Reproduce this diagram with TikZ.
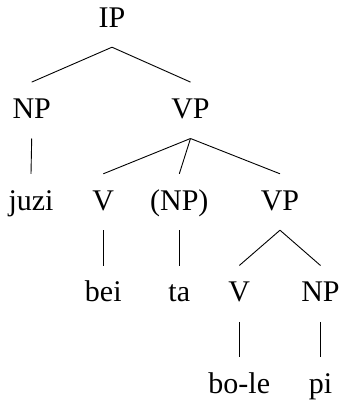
\documentclass[tikz,border=0pt]{standalone}
\usepackage{fontspec}
\setmainfont{Liberation Serif}
\begin{document}
\begin{tikzpicture}[x=1pt,y=-1pt]
\tikzset{
  lab/.style={anchor=base, inner sep=0pt, text height=36pt, text depth=20pt, font=\fontsize{30}{34}\selectfont},
  edge/.style={line width=0.9pt, black}
}
\useasboundingbox (0,0) rectangle (339,402);
\node[lab] (IP) at (112,27) {IP};
\node[lab] (NPa) at (31.7,118.3) {NP};
\node[lab] (VPa) at (190.5,118.3) {VP};
\node[lab] (juzi) at (31,210) {juzi};
\node[lab] (Va) at (103.3,210) {V};
\node[lab] (NPo) at (179.3,210) {(NP)};
\node[lab] (VPb) at (280,210) {VP};
\node[lab] (bei) at (103.3,301.7) {bei};
\node[lab] (ta) at (179.3,301.7) {ta};
\node[lab] (Vb) at (239.3,301.7) {V};
\node[lab] (NPb) at (320.5,301.7) {NP};
\node[lab] (bole) at (239.3,393.3) {bo-le};
\node[lab] (pi) at (320.5,393.3) {pi};
\draw[edge] (IP.south) -- (NPa.north);
\draw[edge] (IP.south) -- (VPa.north);
\draw[edge] (NPa.south) -- (juzi.north);
\draw[edge] (VPa.south) -- (Va.north);
\draw[edge] (VPa.south) -- (NPo.north);
\draw[edge] (VPa.south) -- (VPb.north);
\draw[edge] (Va.south) -- (bei.north);
\draw[edge] (NPo.south) -- (ta.north);
\draw[edge] (VPb.south) -- (Vb.north);
\draw[edge] (VPb.south) -- (NPb.north);
\draw[edge] (Vb.south) -- (bole.north);
\draw[edge] (NPb.south) -- (pi.north);
\end{tikzpicture}
\end{document}
